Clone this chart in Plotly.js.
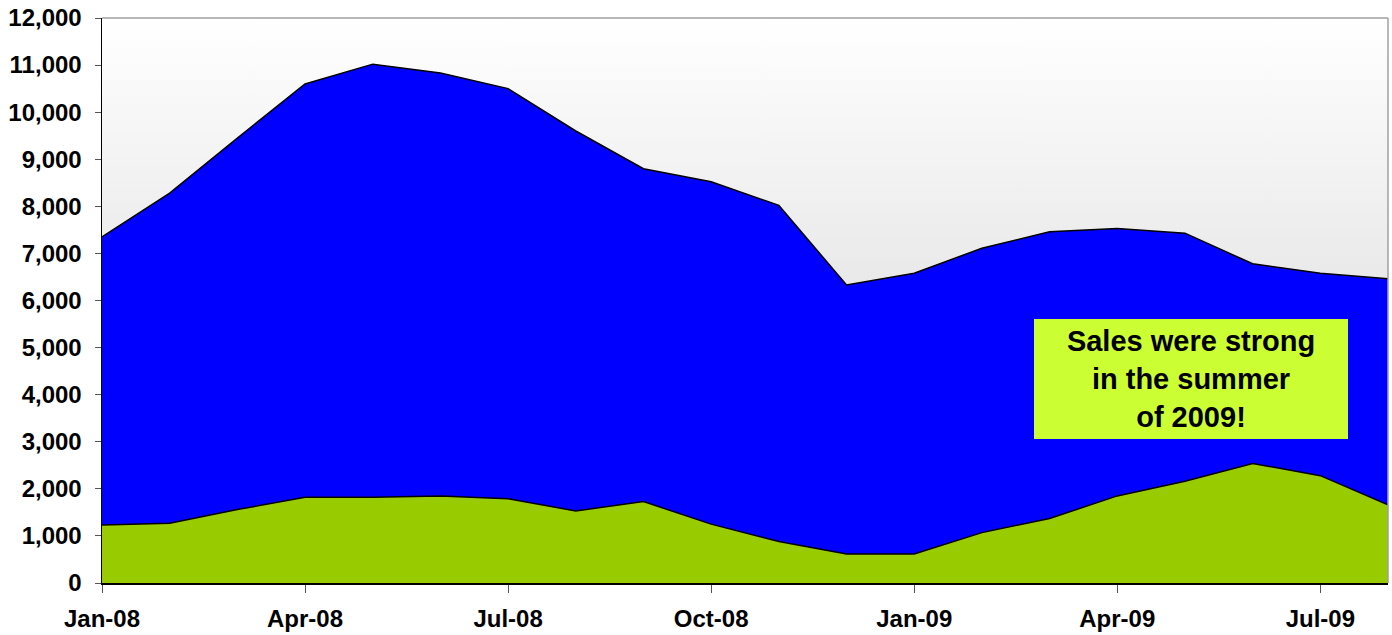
<!DOCTYPE html>
<html>
<head>
<meta charset="utf-8">
<script src="https://cdn.plot.ly/plotly-3.0.1.min.js"></script>
<style>
html,body{margin:0;padding:0;background:#fff;}
#chart{width:1392px;height:635px;}
</style>
</head>
<body>
<div id="chart"></div>
<script>
// Months Jan-08 .. Aug-09
const months = ["Jan-08","Feb-08","Mar-08","Apr-08","May-08","Jun-08","Jul-08","Aug-08","Sep-08","Oct-08","Nov-08","Dec-08",
                "Jan-09","Feb-09","Mar-09","Apr-09","May-09","Jun-09","Jul-09","Aug-09"];
// Total (top of blue area)
const totalSales = [7350,8280,9450,10600,11020,10830,10500,9600,8800,8520,8020,6330,
                    6580,7110,7460,7530,7430,6780,6580,6460];
// Green series
const greenSales = [1230,1270,1560,1820,1820,1850,1790,1530,1730,1250,880,615,
                    615,1070,1370,1850,2160,2540,2280,1660];
const tickLabels = ["Jan-08","Apr-08","Jul-08","Oct-08","Jan-09","Apr-09","Jul-09"];
const tickIdx = tickLabels.map(t => months.indexOf(t));
const xIdx = months.map((m,i)=>i);

const traces = [
  {x: xIdx, y: totalSales, type:'scatter', mode:'lines', fill:'tozeroy',
   fillcolor:'#0000FF', line:{color:'#000000', width:1.5}, hoverinfo:'y', showlegend:false},
  {x: xIdx, y: greenSales, type:'scatter', mode:'lines', fill:'tozeroy',
   fillcolor:'#99CC00', line:{color:'#000000', width:1.5}, hoverinfo:'y', showlegend:false}
];

const grad = 'data:image/svg+xml;utf8,' + encodeURIComponent(
 '<svg xmlns="http://www.w3.org/2000/svg" width="100" height="100" preserveAspectRatio="none">' +
 '<defs><linearGradient id="g" x1="0" y1="0" x2="0" y2="1">' +
 '<stop offset="0" stop-color="#ffffff"/><stop offset="1" stop-color="#d0d0d0"/></linearGradient></defs>' +
 '<rect width="100" height="100" fill="url(#g)"/></svg>');

const tickFont = {family:'Liberation Sans, Arial, sans-serif', size:24, color:'#000', weight:'bold'};

const layout = {
  width:1392, height:635,
  margin:{l:102, r:4, t:18, b:52, pad:0},
  paper_bgcolor:'#ffffff',
  plot_bgcolor:'rgba(0,0,0,0)',
  showlegend:false,
  font:{family:'Liberation Sans, Arial, sans-serif'},
  xaxis:{
    range:[0, months.length-1], tickvals:tickIdx, ticktext:tickLabels,
    showgrid:false, zeroline:false, showline:true, linecolor:'#000', linewidth:1.5,
    ticks:'outside', ticklen:8, tickcolor:'#555', tickwidth:1,
    tickfont:tickFont, ticklabelstandoff:6
  },
  yaxis:{
    range:[0,12000], dtick:1000, tick0:0, tickformat:',d',
    showgrid:false, zeroline:false, showline:true, linecolor:'#000', linewidth:1.5,
    ticks:'outside', ticklen:6, tickcolor:'#555', tickwidth:1,
    tickfont:tickFont, ticklabelstandoff:8
  },
  images:[{source:grad, xref:'paper', yref:'paper', x:0, y:1, sizex:1, sizey:1,
           sizing:'stretch', xanchor:'left', yanchor:'top', layer:'below'}],
  shapes:[
    {type:'line', xref:'paper', yref:'paper', x0:0, x1:1, y0:1, y1:1, line:{color:'#a0a0a0', width:1.5}, layer:'above'},
    {type:'line', xref:'paper', yref:'paper', x0:1, x1:1, y0:0, y1:1, line:{color:'#a0a0a0', width:1.5}, layer:'above'}
  ],
  annotations:[{
    xref:'paper', yref:'paper', x:0.8468, y:0.361, xanchor:'center', yanchor:'middle',
    text:'Sales were strong<br>in the summer<br>of 2009!', showarrow:false,
    align:'center', valign:'middle', width:314, height:120, borderpad:0,
    bgcolor:'#CCFF33', borderwidth:0,
    font:{family:'Liberation Sans, Arial, sans-serif', size:29, color:'#000', weight:'bold'}
  }]
};

Plotly.newPlot('chart', traces, layout, {displayModeBar:false, staticPlot:true});
</script>
</body>
</html>
